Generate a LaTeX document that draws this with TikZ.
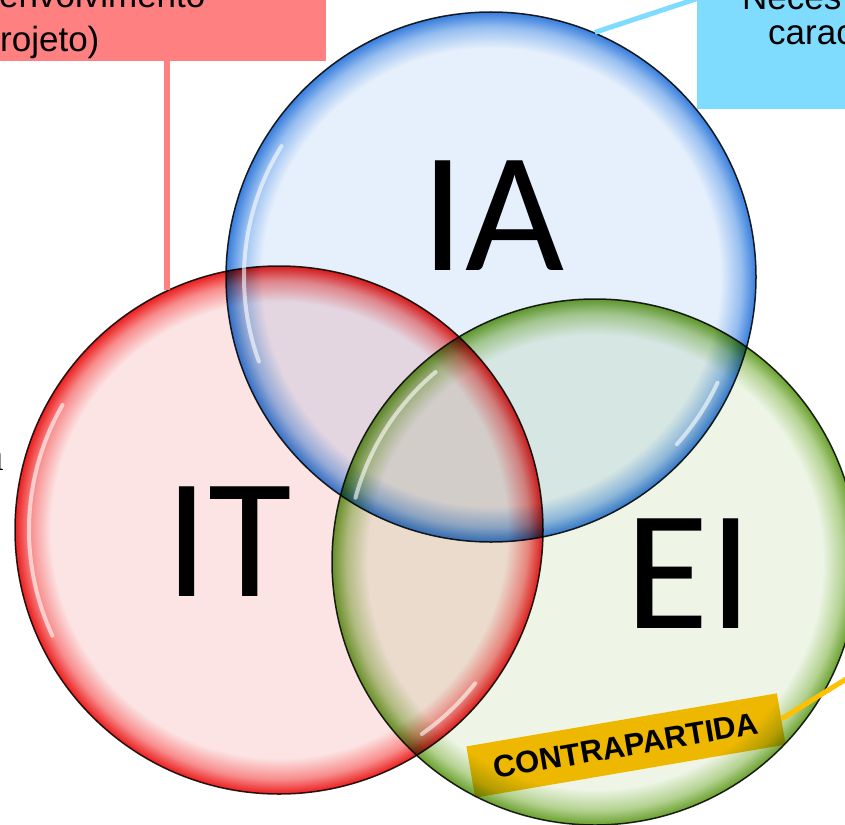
\documentclass[tikz,border=0pt]{standalone}
\usepackage{fontspec}
\setmainfont{Liberation Sans}
\newfontfamily\calib{Carlito}
\newfontfamily\tms{Liberation Serif}
\definecolor{boxred}{RGB}{255,128,128}
\definecolor{boxcyan}{RGB}{128,220,255}
\definecolor{gold}{RGB}{255,192,0}
\definecolor{orangeline}{RGB}{255,192,0}
\definecolor{redpale}{RGB}{252,228,228}
\definecolor{redmid}{RGB}{248,140,140}
\definecolor{rededge}{RGB}{235,30,30}
\definecolor{bluepale}{RGB}{230,240,252}
\definecolor{bluemid}{RGB}{150,190,240}
\definecolor{blueedge}{RGB}{55,125,220}
\definecolor{greenpale}{RGB}{238,245,230}
\definecolor{greenmid}{RGB}{180,210,145}
\definecolor{greenedge}{RGB}{105,160,45}
\pgfdeclareradialshading{redglass}{\pgfpointorigin}{color(0bp)=(redpale); color(21.6bp)=(redpale); color(23.6bp)=(redmid); color(25bp)=(rededge); color(50bp)=(rededge)}
\pgfdeclareradialshading{blueglass}{\pgfpointorigin}{color(0bp)=(bluepale); color(21.6bp)=(bluepale); color(23.6bp)=(bluemid); color(25bp)=(blueedge); color(50bp)=(blueedge)}
\pgfdeclareradialshading{greenglass}{\pgfpointorigin}{color(0bp)=(greenpale); color(21.6bp)=(greenpale); color(23.6bp)=(greenmid); color(25bp)=(greenedge); color(50bp)=(greenedge)}
\begin{document}
\begin{tikzpicture}[x=1pt,y=-1pt,
  glass/.style={circle, inner sep=0pt, draw=black!85, line width=1.5pt, shade},
  biglabel/.style={font=\calib\fontsize{171}{171}\selectfont, inner sep=0pt, anchor=base},
  boxtext/.style={font=\fontsize{35}{40}\selectfont, inner sep=0pt, anchor=base west},
  hl/.style={white, line width=4pt, opacity=0.6, line cap=round}]
\useasboundingbox (0,0) rectangle (845,824);
% boxes
\node[fill=boxred, minimum width=366pt, minimum height=101pt, inner sep=0pt, anchor=south east] (redbox) at (326,61) {};
\node[boxtext] (t1) at (-1,8) {envolvimento};
\node[boxtext] (t2) at (0,52) {rojeto)};
\node[fill=boxcyan, minimum width=200pt, minimum height=110pt, inner sep=0pt, anchor=south west] (cybox) at (697,109) {};
\node[boxtext] (t3) at (742,10) {Neces};
\node[boxtext] (t4) at (768,45) {carac};
\node[font=\tms\fontsize{44}{44}\selectfont, inner sep=0pt, anchor=base east] (ltr) at (4,470) {a};
% label under the circles
\node[fill=gold, rotate=9.7, minimum width=315pt, minimum height=52pt, inner sep=0pt, font=\bfseries\fontsize{31}{31}\selectfont] (cpd) at (626,745.5) {CONTRAPARTIDA};
% circles
\begin{scope}[blend mode=multiply]
\node[glass, shading=redglass, minimum size=528pt] (ITc) at (279,530) {};
\node[glass, shading=blueglass, minimum size=530pt] (IAc) at (491,277) {};
\node[glass, shading=greenglass, minimum size=526pt] (EIc) at (595,562) {};
\end{scope}
% highlights
\begin{scope}[shift={(ITc.center)}, y=1pt]
\draw[hl] (150:250) arc (150:205:250);
\draw[hl] (-38:249) arc (-38:-55:249);
\end{scope}
\begin{scope}[shift={(IAc.center)}, y=1pt]
\draw[hl] (148:247) arc (148:200:247);
\draw[hl] (-25:250) arc (-25:-42:250);
\end{scope}
\begin{scope}[shift={(EIc.center)}, y=1pt]
\draw[hl] (130:248) arc (130:165:248);
\end{scope}
% labels
\node[biglabel] (IA) at (493,270) {IA};
\node[biglabel] (IT) at (229,596) {IT};
\node[biglabel] (EI) at (689,628) {EI};
% connectors
\draw[boxred, line width=6.5pt] (redbox.south -| ITc.115.3) -- (ITc.115.3);
\draw[boxcyan, line width=5pt] (cybox.north west) -- (IAc.67.9);
\coordinate (oend) at (890,652);
\draw[orangeline, line width=5pt] (cpd.east) -- (oend);
\end{tikzpicture}
\end{document}
